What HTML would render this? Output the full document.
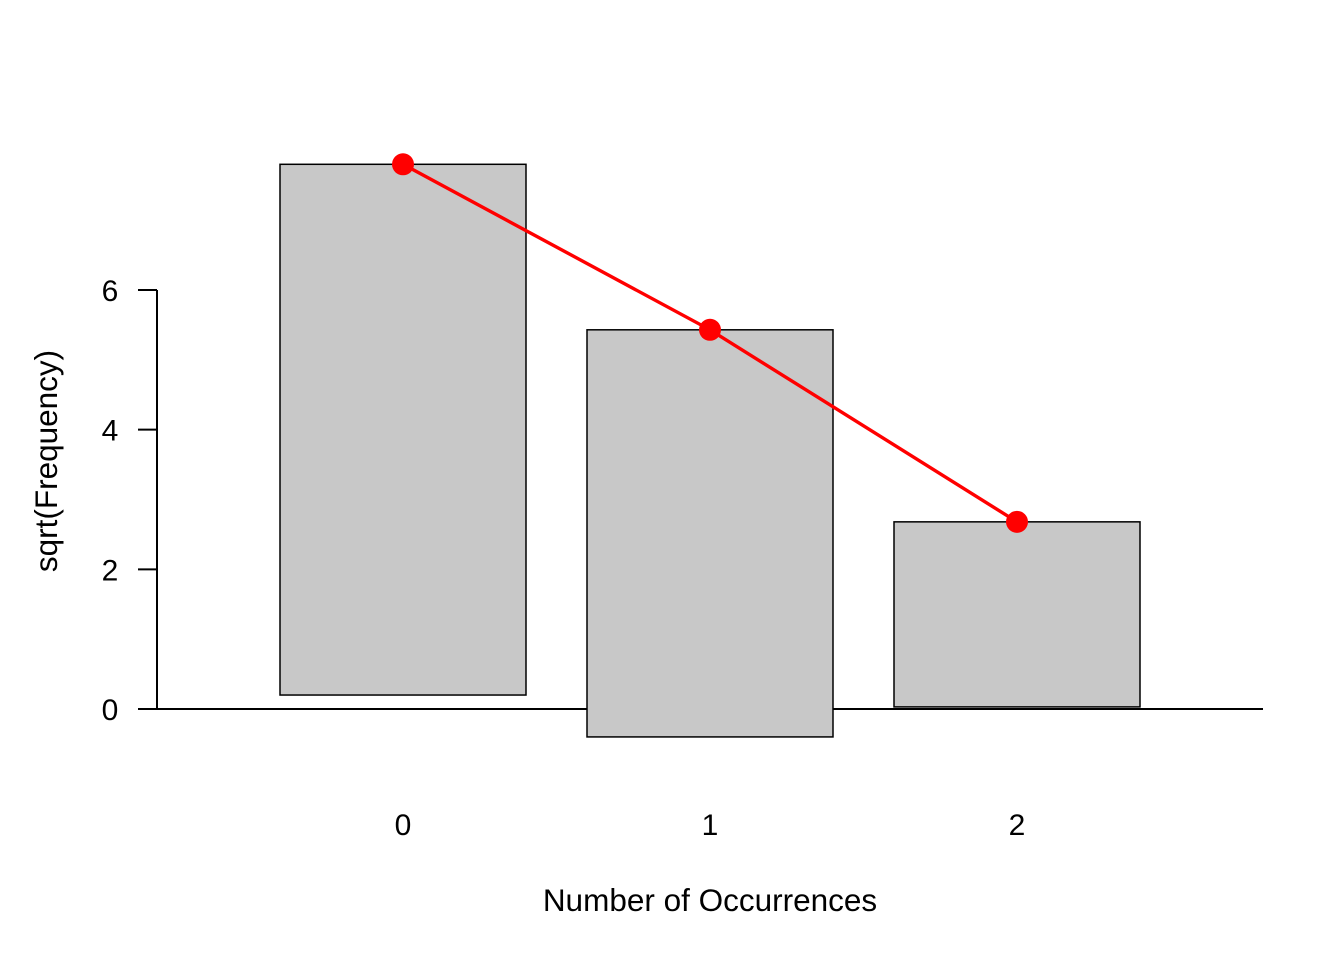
<!DOCTYPE html>
<html>
<head>
<meta charset="utf-8">
<style>
html,body{margin:0;padding:0;background:#fff;}
svg{display:block;font-family:"Liberation Sans",Arial,sans-serif;}
</style>
</head>
<body>
<svg id="chart" width="1344" height="960" viewBox="0 0 1344 960">
  <g id="axes"></g>
  <g id="bars"></g>
  <g id="curve"></g>
  <text x="710" y="911" font-size="31.5" text-anchor="middle">Number of Occurrences</text>
  <text transform="translate(57,461) rotate(-90)" font-size="31.5" text-anchor="middle">sqrt(Frequency)</text>
</svg>
<script>
const categories = ["0", "1", "2"];
const expectedSqrt = [7.80, 5.43, 2.68];
const observedSqrt = [7.60, 5.83, 2.65];
const yTicks = [0, 2, 4, 6];

const NS = "http://www.w3.org/2000/svg";
function yScale(v){ return 709 - v * (709 - 290) / 6; }
function xScale(i){ return 403 + i * 307; }
const barW = 246;

function mk(tag, attrs, parent){
  const e = document.createElementNS(NS, tag);
  for (const k in attrs) e.setAttribute(k, attrs[k]);
  parent.appendChild(e);
  return e;
}

const axes = document.getElementById("axes");
const bars = document.getElementById("bars");
const curve = document.getElementById("curve");

let yl = mk("line", {x1:157, x2:157, y1:yScale(yTicks[yTicks.length-1]), y2:yScale(0), stroke:"#000", "stroke-width":2}, axes);


yTicks.forEach(t => {
  const tk = mk("line", {x1:138, x2:157, y1:yScale(t), y2:yScale(t), stroke:"#000", "stroke-width":2}, axes);
  
  
  const tl = mk("text", {x:110, y:yScale(t)+11, "font-size":30, "text-anchor":"middle"}, axes);
  tl.textContent = t;
  
  
});

categories.forEach((c, i) => {
  const top = expectedSqrt[i];
  const bottom = expectedSqrt[i] - observedSqrt[i];
  const r = mk("rect", {x:xScale(i)-barW/2, y:yScale(top), width:barW, height:yScale(bottom)-yScale(top), fill:"#c8c8c8", stroke:"#000", "stroke-width":1.5}, bars);
  
  
  const xl = mk("text", {x:xScale(i), y:835, "font-size":30, "text-anchor":"middle"}, axes);
  xl.textContent = c;
  
  
});

const zl = mk("line", {x1:138, x2:1263, y1:yScale(0), y2:yScale(0), stroke:"#000", "stroke-width":2}, axes);



const pts = expectedSqrt.map((v, i) => xScale(i) + "," + yScale(v)).join(" ");
const pl = mk("polyline", {points:pts, fill:"none", stroke:"#ff0000", "stroke-width":3.4}, curve);


expectedSqrt.forEach((v, i) => {
  const c = mk("circle", {cx:xScale(i), cy:yScale(v), r:11, fill:"#ff0000"}, curve);
  
  
});
</script>
</body>
</html>
